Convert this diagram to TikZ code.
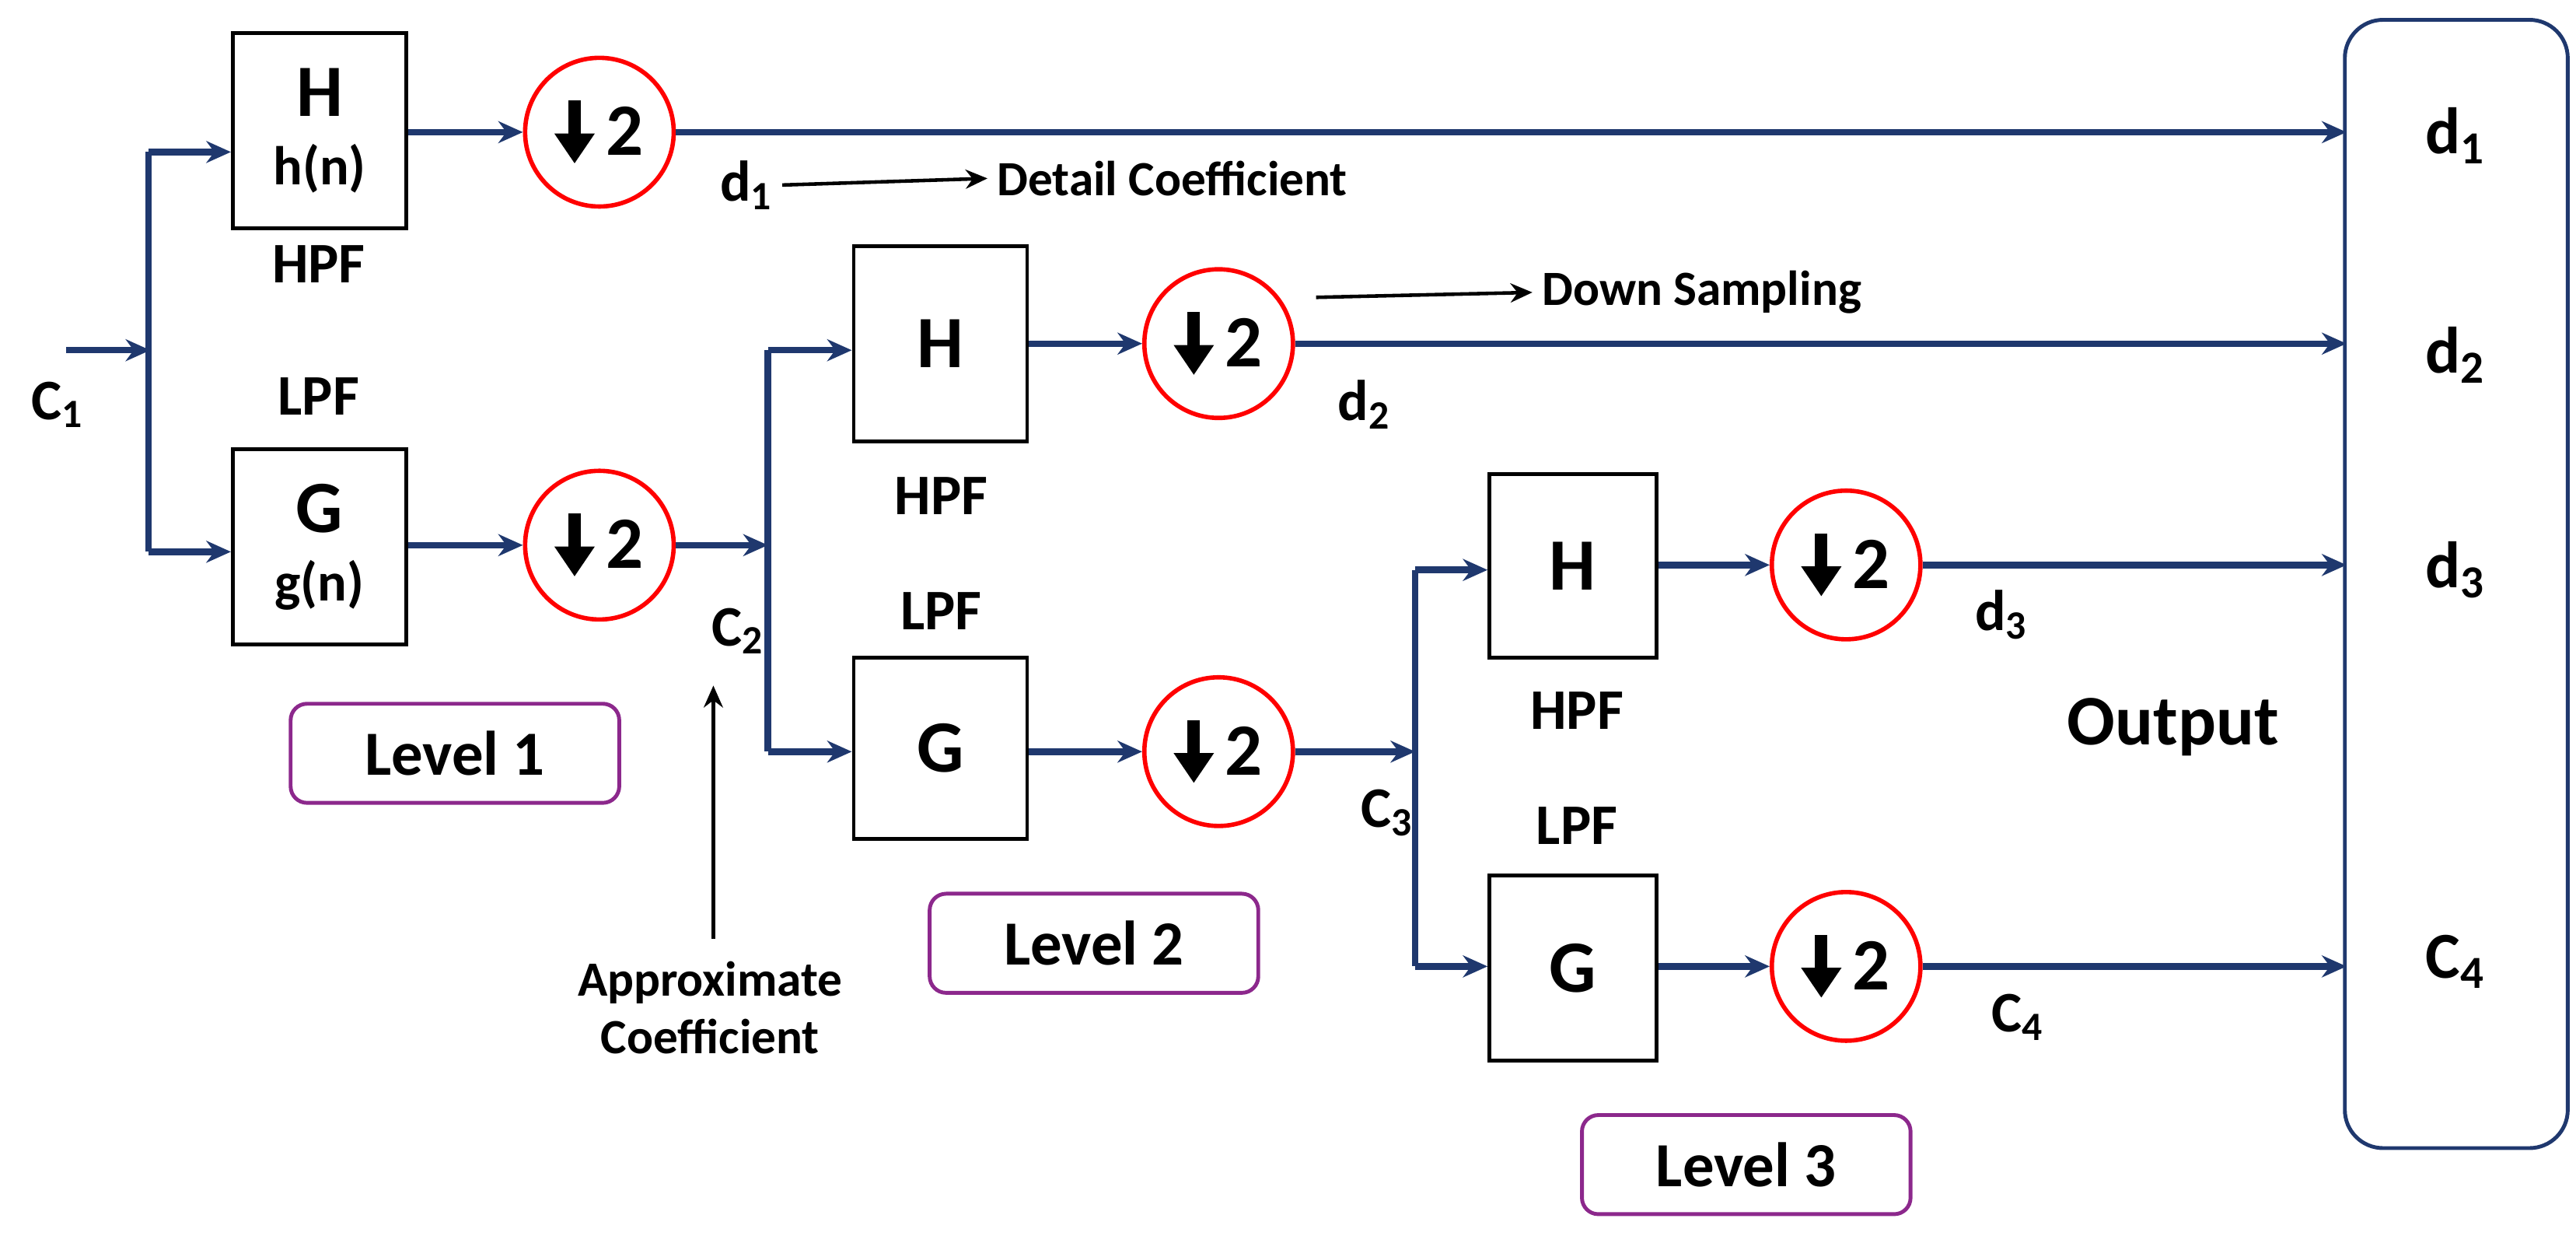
\documentclass[tikz,border=0pt]{standalone}
\usepackage{fontspec}
\setmainfont{Carlito}
\usetikzlibrary{arrows.meta}
\definecolor{navy}{RGB}{31,56,110}
\definecolor{lvl}{RGB}{140,40,140}
\newcommand\dnarr{\tikz[baseline=0pt]\draw[black,line width=4.5pt,-{Triangle[length=11pt,width=14pt]}](0,20pt)--(0,-3pt);}
\begin{document}
\begin{tikzpicture}[x=0.02124cm,y=-0.02124cm,font=\bfseries,
 box/.style={draw,thick,line width=1.4pt,minimum width=105*0.02124cm,minimum height=118*0.02124cm,font=\bfseries\fontsize{27}{29}\selectfont,align=center},
 ds/.style={circle,draw=red,line width=1.6pt,minimum size=90*0.02124cm,inner sep=0pt,font=\bfseries\fontsize{27}{29}\selectfont},
 lab/.style={font=\bfseries\fontsize{18}{21}\selectfont},
 sub/.style={font=\bfseries\fontsize{21}{23}\selectfont},
 lv/.style={draw=lvl,rounded corners=6pt,line width=1.4pt,minimum width=199*0.02124cm,minimum height=60*0.02124cm,font=\bfseries\fontsize{23}{25}\selectfont},
 ln/.style={navy,line width=2.4pt},
 ar/.style={ln,-{Stealth[length=9pt,width=8pt]}},
 blk/.style={black,line width=1.3pt,-{Stealth[length=8pt,width=7pt]}}]
\useasboundingbox (0,0) rectangle (1560,748);
% output
\node[draw=navy,rounded corners=14pt,line width=1.4pt,minimum width=135*0.02124cm,minimum height=683*0.02124cm] (out) at (1487.5,353.5) {};
\node[font=\bfseries\fontsize{24}{26}\selectfont] (o1) at (1487,82) {d\textsubscript{1}};
\node[font=\bfseries\fontsize{24}{26}\selectfont] (o2) at (1487,215) {d\textsubscript{2}};
\node[font=\bfseries\fontsize{24}{26}\selectfont] (o3) at (1487,345) {d\textsubscript{3}};
\node[font=\bfseries\fontsize{24}{26}\selectfont] (o4) at (1487,582) {C\textsubscript{4}};
\node[font=\bfseries\fontsize{26}{28}\selectfont] (olab) at (1316,440) {Output};
\coordinate (e1) at (1421,80); \coordinate (e2) at (1421,208);
\coordinate (e3) at (1421,342); \coordinate (e4) at (1421,585);
% level 1
\node[box] (h1) at (193.5,79) {H\\[-4pt]{\fontsize{20}{22}\selectfont h(n)}};
\node[box] (g1) at (193.5,331) {G\\[-4pt]{\fontsize{20}{22}\selectfont g(n)}};
\node[sub] (hp1) at (193,160) {HPF};
\node[sub] (lp1) at (193,240) {LPF};
\node[ds] (c11) at (363,80) {\dnarr\,2};
\node[ds] (c12) at (363,330) {\dnarr\,2};
\node[lv] (lv1) at (275.5,456) {Level 1};
\coordinate (in) at (40,212); \coordinate (s1) at (91,212);
\coordinate (s1a) at (90,92); \coordinate (s1b) at (90,334);
\node[sub] (c1l) at (35,245) {C\textsubscript{1}};
\draw[ar] (in)--(s1);
\draw[ln] (s1a)--(s1b);
\draw[ar] (s1a)--(h1.west|-s1a);
\draw[ar] (s1b)--(g1.west|-s1b);
\draw[ar] (h1.east|-c11)--(c11);
\draw[ar] (g1.east|-c12)--(c12);
\draw[ar] (c11)--(e1);
\node[sub] (d1l) at (452,112) {d\textsubscript{1}};
\node[lab,anchor=west] (dc) at (598,108) {Detail Coefficient};
\draw[blk] (d1l.east)--(dc.west);
% level 2
\coordinate (s2) at (465,330); \coordinate (s2a) at (465,212); \coordinate (s2b) at (465,455);
\draw[ar] (c12)--(s2);
\draw[ln] (s2a)--(s2b);
\node[sub] (c2l) at (447,382) {C\textsubscript{2}};
\node[lab,align=center] (apx) at (430,610) {Approximate\\Coefficient};
\draw[blk] (apx.north-|432,0)++(0,-8)--(432,415);
\node[box] (h2) at (569.5,208) {H};
\node[box,minimum height=110*0.02124cm] (g2) at (569.5,453) {G};
\node[sub] (hp2) at (570,300) {HPF};
\node[sub] (lp2) at (570,370) {LPF};
\draw[ar] (s2a)--(h2.west|-s2a);
\draw[ar] (s2b)--(g2.west|-s2b);
\node[ds] (c21) at (738,208) {\dnarr\,2};
\node[ds] (c22) at (738,455) {\dnarr\,2};
\draw[ar] (h2.east|-c21)--(c21);
\draw[ar] (g2.east|-c22)--(c22);
\draw[ar] (c21)--(e2);
\node[sub] (d2l) at (826,245) {d\textsubscript{2}};
\coordinate (dsa) at (797,180);
\node[lab,anchor=west] (dsl) at (928,177) {Down Sampling};
\draw[blk] (dsa)--(dsl.west);
\node[lv] (lv2) at (662.5,571) {Level 2};
% level 3
\coordinate (s3) at (857,455); \coordinate (s3a) at (857,345); \coordinate (s3b) at (857,585);
\draw[ar] (c22)--(s3);
\draw[ln] (s3a)--(s3b);
\node[sub] (c3l) at (840,492) {C\textsubscript{3}};
\node[box,minimum width=101*0.02124cm,minimum height=111*0.02124cm] (h3) at (952.5,342.5) {H};
\node[box,minimum width=101*0.02124cm,minimum height=112*0.02124cm] (g3) at (952.5,586) {G};
\node[sub] (hp3) at (955,430) {HPF};
\node[sub] (lp3) at (955,500) {LPF};
\draw[ar] (s3a)--(h3.west|-s3a);
\draw[ar] (s3b)--(g3.west|-s3b);
\node[ds] (c31) at (1118,342) {\dnarr\,2};
\node[ds] (c32) at (1118,585) {\dnarr\,2};
\draw[ar] (h3.east|-c31)--(c31);
\draw[ar] (g3.east|-c32)--(c32);
\draw[ar] (c31)--(e3);
\draw[ar] (c32)--(e4);
\node[sub] (d3l) at (1212,372) {d\textsubscript{3}};
\node[sub] (c4l) at (1222,616) {C\textsubscript{4}};
\node[lv] (lv3) at (1057.5,705) {Level 3};
\end{tikzpicture}
\end{document}
